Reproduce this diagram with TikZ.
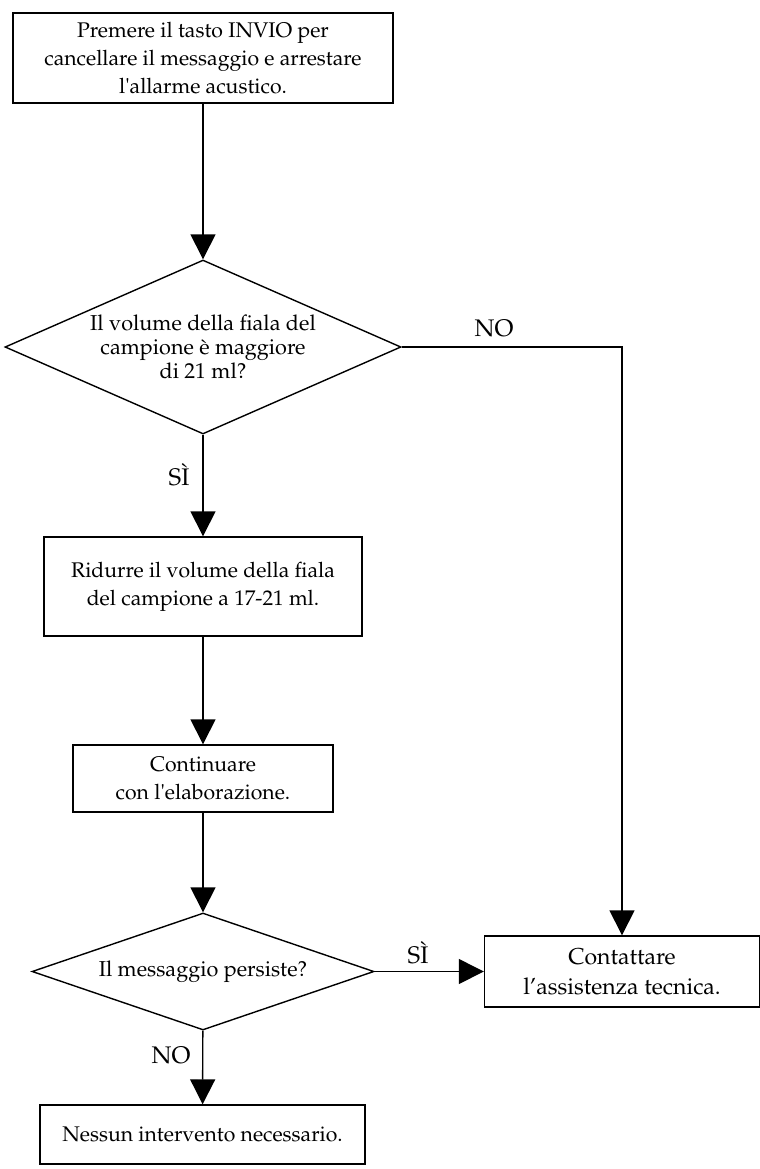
\documentclass[tikz,border=0pt]{standalone}
\usepackage[T1]{fontenc}
\usepackage{mathpazo}
\usetikzlibrary{arrows.meta, shapes.geometric}

\tikzset{
  txt/.style={font=\fontsize{10.6}{14}\selectfont},
  box/.style={txt, draw, line width=0.7pt, align=center, inner sep=0pt},
  decision/.style={draw, diamond, line width=0.7pt, align=center, inner sep=0pt,
    font=\fontsize{10.8}{12}\selectfont},
  flow/.style={line width=0.7pt, -{Triangle[length=12.5pt,width=12.5pt]}},
  answer/.style={font=\fontsize{12}{14}\selectfont, inner sep=0pt}
}

\begin{document}
\begin{tikzpicture}[x=0.5pt, y=-0.5pt]
\useasboundingbox (0,0) rectangle (760,1169);
% main column
\node[box, minimum width=190pt, minimum height=45pt] (enter) at (203,58)
  {Premere il tasto INVIO per\\cancellare il messaggio e arrestare\\l\textquotesingle allarme acustico.};
\node[decision, minimum width=198pt, minimum height=87pt, aspect=2.28] (volume) at (203,347)
  {Il volume della fiala del\\campione \`e maggiore\\di 21 ml?};
\node[box, minimum width=159pt, minimum height=49.5pt] (reduce) at (203,586.5)
  {Ridurre il volume della fiala\\del campione a 17-21 ml.};
\node[box, minimum width=130pt, minimum height=33.5pt] (goon) at (203,778.5)
  {Continuare\\con l\textquotesingle elaborazione.};
\node[decision, minimum width=171pt, minimum height=58.5pt, aspect=2.92] (persist) at (203,971.5)
  {Il messaggio persiste?};
\node[box, minimum width=162.5pt, minimum height=29.5pt] (none) at (202.5,1134.5)
  {Nessun intervento necessario.};
% right column
\node[box, font=\fontsize{11.5}{15}\selectfont, minimum width=137.5pt, minimum height=35.5pt] (support) at (622,971.5)
  {Contattare\\l'assistenza tecnica.};

% connectors
\draw[flow] (enter) -- (volume);
\draw[flow] (volume) -- (reduce);
\draw[flow] (reduce) -- (goon);
\draw[flow] (goon) -- (persist);
\draw[flow] (persist) -- (none);
\draw[flow] (persist) -- (support);
\draw[flow] (volume.east) -| (support.north);

% answers
\node[answer] (vno) at (494,328) {NO};
\node[answer] (vyes) at (179,475) {S\`I};
\node[answer] (pyes) at (418,953) {S\`I};
\node[answer] (pno) at (171,1055) {NO};
\end{tikzpicture}
\end{document}
